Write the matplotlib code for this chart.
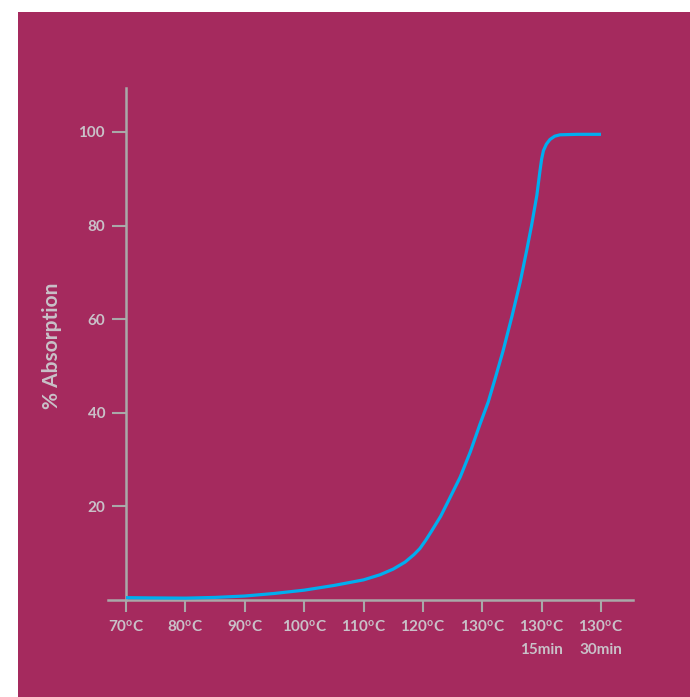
import matplotlib
matplotlib.use("Agg")
import matplotlib.pyplot as plt
from matplotlib.patches import Rectangle

# Data (x = position along the category axis)
categories = ["70", "80", "90", "100", "110", "120", "130", "130", "130"]
extra_line = ["", "", "", "", "", "", "", "15min", "30min"]
curve_x = [0, 0.4, 1, 1.5, 2, 2.5, 3, 3.5, 4, 4.28, 4.5, 4.7, 4.85, 4.95, 5.05,
           5.15, 5.3, 5.45, 5.63, 5.8, 5.96, 6.1, 6.21, 6.35, 6.5, 6.64, 6.75,
           6.83, 6.92, 6.97, 7.0, 7.03, 7.08, 7.14, 7.22, 7.31, 7.6, 8.0]
curve_y = [0.5, 0.45, 0.4, 0.55, 0.85, 1.4, 2.1, 3.1, 4.3, 5.4, 6.6, 8.1, 9.7,
           11.0, 12.8, 14.8, 17.9, 21.7, 26.3, 31.7, 37.5, 42.3, 47.0, 53.2,
           60.6, 68.0, 74.8, 80.0, 86.5, 91.5, 94.2, 96.0, 97.4, 98.4, 99.1,
           99.4, 99.5, 99.5]
y_ticks = [20, 40, 60, 80, 100]

bg = "#a52a5e"
axis_col = "#a9a9a9"
text_col = "#c9c1c8"
line_col = "#00aeef"

plt.rcParams["font.family"] = ["Lato", "DejaVu Sans"]
plt.rcParams["mathtext.fontset"] = "custom"
plt.rcParams["mathtext.rm"] = "Lato:bold"

fig = plt.figure(figsize=(6.9, 6.97), dpi=100)
fig.patch.set_facecolor("white")
fig.patches.append(Rectangle((18 / 690, 0), 1, (697 - 12) / 697,
                             transform=fig.transFigure, facecolor=bg,
                             edgecolor="none", zorder=-5))

ax = fig.add_axes([108 / 690, (697 - 600) / 697, 525 / 690, 512 / 697])
ax.set_zorder(2)
ax.set_facecolor("none")
ax.plot(curve_x, curve_y, color=line_col, lw=2.3, solid_capstyle="butt",
        solid_joinstyle="round", zorder=3)

ax.set_xlim(-18 / 59.375, 507 / 59.375)
ax.set_ylim(0, 109.4)

for s in ["top", "right"]:
    ax.spines[s].set_visible(False)
ax.spines["left"].set_position(("data", 0))
for s in ["left", "bottom"]:
    ax.spines[s].set_color(axis_col)
    ax.spines[s].set_linewidth(1.8)

labels = []
for c, e in zip(categories, extra_line):
    lab = r"$\mathrm{" + c + r"^{o}C}$"
    if e:
        lab += "\n" + e
    labels.append(lab)

ax.set_xticks(range(len(categories)))
ax.set_xticklabels(labels, linespacing=1.7, va="top")
ax.set_yticks(y_ticks)
ax.tick_params(axis="x", direction="out", length=8.6, width=1.5,
               color=axis_col, pad=5, labelsize=11, labelcolor=text_col)
ax.tick_params(axis="y", direction="out", length=10, width=1.5,
               color=axis_col, pad=5, labelsize=11, labelcolor=text_col)
for t in ax.get_xticklabels() + ax.get_yticklabels():
    t.set_fontweight("bold")

fig.text(52 / 690, (697 - 346) / 697, "% Absorption", rotation=90,
         ha="center", va="center", fontsize=15, fontweight="bold",
         color=text_col)

fig.savefig("out.png", dpi=100, facecolor=fig.get_facecolor())
